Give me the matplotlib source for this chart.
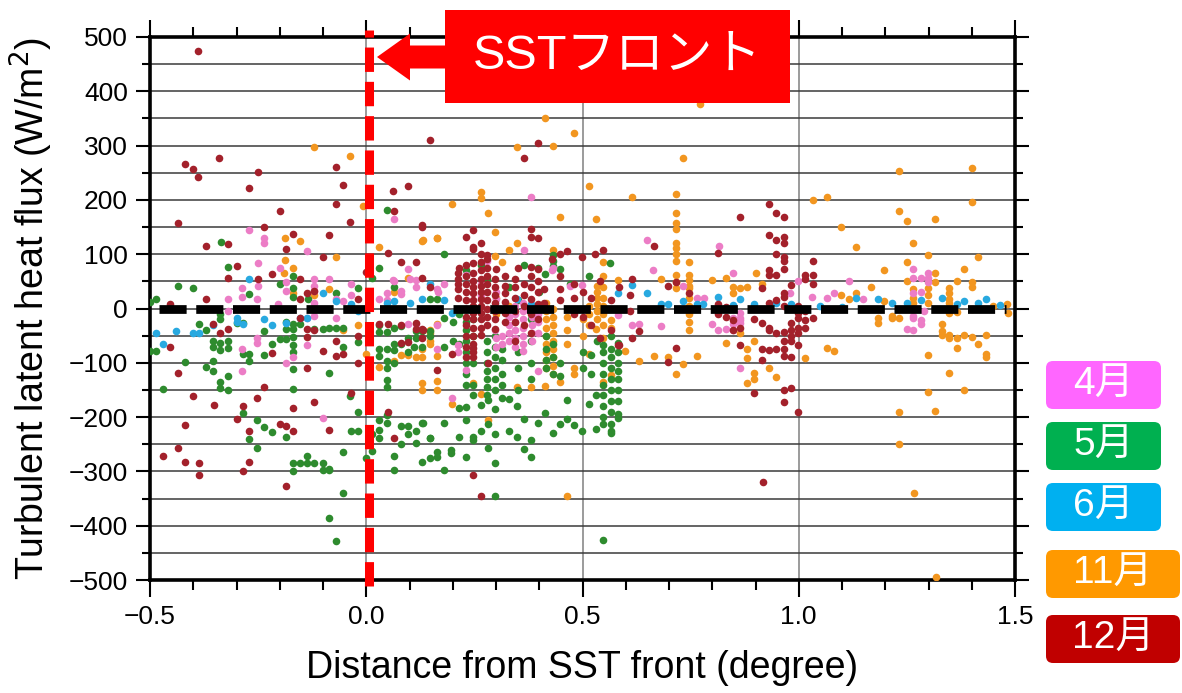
import matplotlib
matplotlib.use("Agg")
import matplotlib.pyplot as plt
from matplotlib.patches import FancyBboxPatch, FancyArrow, Rectangle
from matplotlib.ticker import MultipleLocator

plt.rcParams["font.family"] = ["Liberation Sans", "Noto Sans CJK JP", "DejaVu Sans"]

# ---- data (x: distance from SST front [deg], y: latent heat flux [W/m2]) ----
months = ["4月", "5月", "6月", "11月", "12月"]
dot_colors = ["#EC7DC6", "#2E8B2E", "#28A9E0", "#F29620", "#A3212B"]
box_colors = ["#FF66FF", "#00B050", "#00B0F0", "#FF9900", "#C00000"]

apr_pts = [
    (-0.27, 145), (-0.236, 129), (-0.236, 120), (-0.137, 105), (-0.25, 83), (-0.20, 74),
    (-0.25, 41), (-0.287, 37), (-0.287, 22), (-0.32, 17), (-0.253, 17), (-0.186, 48),
    (-0.186, 33), (-0.12, 55), (-0.12, 42), (-0.12, 33), (-0.086, 55), (-0.07, 18),
    (-0.035, 46), (-0.035, 24), (-0.054, 13), (0.064, 164), (0.096, 72), (0.064, 50),
    (0.048, 29), (0.048, 16), (0.115, 53), (0.03, 18), (0.163, 35), (-0.205, 8),
    (-0.12, 10), (0.08, 33), (0.08, 26), (0.062, 52),
    (-0.253, -55), (-0.287, -74), (-0.287, -116), (-0.17, -90), (-0.186, -101), (-0.137, -68),
    (-0.10, -201), (-0.137, -17), (-0.12, -13), (-0.07, -17), (-0.253, -63), (0.115, -28),
    (0.096, -28), (-0.32, -5), (0.164, -31), (0.164, -74), (0.212, -68), (0.212, -81),
    (0.381, 206), (0.365, 108), (0.432, 75), (0.499, 44), (0.28, 88), (0.23, 62),
    (0.18, 45), (0.165, 30), (0.10, 55), (0.115, 40), (0.47, 42), (0.43, 70),
    (0.33, 0), (0.33, -15), (0.33, -30), (0.33, -45), (0.33, -60),
    (0.345, 5), (0.345, -10), (0.345, -25), (0.345, -40), (0.345, -55), (0.345, -70),
    (0.363, 10), (0.363, -5), (0.363, -20), (0.363, -35), (0.363, -50), (0.363, -65), (0.363, -78),
    (0.383, 0), (0.383, -15), (0.383, -30), (0.383, -45), (0.383, -60),
    (0.397, -10), (0.397, -25), (0.397, -45), (0.30, 30), (0.30, 18), (0.30, -55), (0.30, -70),
    (0.265, 45), (0.265, 25), (0.315, -50), (0.315, -65), (0.298, -40), (0.23, -113),
    (0.198, -164), (0.397, -116),
    (0.649, 127), (0.663, 70), (0.732, 41), (0.681, -33), (0.614, -30), (0.631, -28),
    (0.582, -12), (0.815, 116), (0.813, -40), (0.80, -28), (0.78, 20), (0.765, 20),
    (0.848, 66), (0.998, 50), (1.116, 50), (1.065, 20), (1.081, 28), (1.149, 18),
    (0.832, -37), (0.848, -40), (0.864, -22), (0.864, -9), (0.864, -110), (0.848, -17),
    (0.848, -28), (0.864, -26), (0.864, -18), (0.98, 28), (1.03, 22),
    (1.264, 72), (1.264, 57), (1.283, 57), (1.299, 66), (1.299, 57), (1.299, 48),
    (1.283, 31), (1.264, 28), (1.25, -37), (1.264, -40), (1.283, -22), (1.283, -28),
    (1.264, -13), (1.264, -18), (1.29, -5),
]

may_pts = [
    (-0.336, 122), (-0.32, 77), (-0.435, 42), (-0.40, 37), (-0.486, 18), (-0.27, 27),
    (-0.20, 46), (-0.17, 59), (-0.17, 37), (-0.17, 22), (-0.135, 18), (-0.07, 29),
    (-0.018, 37), (0.048, 182), (0.03, 74), (0.014, 57), (0.064, 39), (0.147, 18),
    (0.164, 18), (-0.5, 12),
    (-0.5, -79), (-0.486, -79), (-0.42, -99), (-0.47, -149), (-0.386, -29), (-0.37, -39),
    (-0.338, -11), (-0.338, -20), (-0.354, -59), (-0.354, -70), (-0.338, -63), (-0.338, -76),
    (-0.32, -59), (-0.32, -72), (-0.37, -107), (-0.354, -96), (-0.354, -116), (-0.32, -125),
    (-0.338, -136), (-0.338, -147), (-0.32, -151), (-0.30, -26), (-0.285, -26), (-0.285, -83),
    (-0.27, -83), (-0.27, -96), (-0.285, -192), (-0.27, -241), (-0.253, -256), (-0.253, -206),
    (-0.236, -42), (-0.236, -85), (-0.236, -219), (-0.218, -66), (-0.218, -228), (-0.20, -57),
    (-0.186, -57), (-0.186, -236), (-0.17, -28), (-0.17, -37), (-0.17, -53), (-0.17, -68),
    (-0.17, -81), (-0.17, -112), (-0.17, -149), (-0.186, -24), (-0.186, -37), (-0.153, -28),
    (-0.12, -37), (-0.10, -37), (-0.086, -118), (-0.086, -35), (-0.07, -35), (-0.054, -35),
    (-0.054, -70), (-0.054, -265), (-0.086, -297), (-0.054, -339), (-0.086, -385), (-0.07, -429),
    (-0.037, -162), (-0.035, -225), (-0.02, -225), (-0.02, -61), (-0.02, -191), (-0.17, -285),
    (-0.17, -300), (-0.153, -284), (-0.137, -271), (-0.137, -284), (-0.12, -284), (-0.10, -285),
    (-0.10, -297), (-0.086, -295),
    (0.0, -276), (0.014, -262), (0.014, -232), (0.03, -206), (0.03, -223), (0.03, -238),
    (0.048, -197), (0.048, -210), (0.048, -131), (0.048, -145), (0.048, -96), (0.048, -109),
    (0.064, -101), (0.03, -74), (0.048, -74), (0.03, -87), (0.03, -44), (0.048, -44),
    (0.064, -35), (0.064, -65), (0.064, -76), (0.08, -65), (0.096, -81), (0.064, -271),
    (0.064, -297), (0.08, -217), (0.096, -217), (0.096, -232), (0.115, -225), (0.13, -210),
    (0.115, -247), (0.08, -249), (0.13, -282), (0.147, -276), (0.164, -274), (0.164, -265),
    (0.147, -238), (0.115, -41), (0.13, -41), (0.147, -41), (0.096, -55), (0.115, -55),
    (0.03, -30), (0.08, -33), (0.147, -50), (0.18, -17), (0.20, -24), (0.11, -70),
    (0.13, -70), (0.18, -70), (0.20, -60), (0.215, -66), (0.215, -10),
    (0.196, -260), (0.196, -267), (0.23, -273), (0.281, -256), (0.298, -284), (0.365, -258),
    (0.381, -274), (0.18, -297), (0.298, -346), (0.548, -427),
    (0.18, 100), (0.265, 81), (0.365, 81), (0.397, 74), (0.432, 98), (0.432, 88),
    (0.432, 79), (0.448, 72), (0.413, 64), (0.564, 83), (0.23, 70), (0.28, 55),
    (0.33, 40), (0.47, 45), (0.40, 30), (0.35, 15), (0.515, 60),
    (0.23, -25), (0.23, -40), (0.23, -60), (0.23, -80), (0.23, -100), (0.23, -120), (0.23, -140),
    (0.247, -20), (0.247, -50), (0.247, -100), (0.247, -140), (0.247, -160),
    (0.28, -60), (0.28, -80), (0.28, -100), (0.28, -115), (0.28, -130), (0.28, -145), (0.28, -160),
    (0.298, -50), (0.298, -70), (0.298, -90), (0.298, -110), (0.298, -130), (0.298, -150), (0.298, -185),
    (0.314, -75), (0.314, -95), (0.314, -120), (0.314, -140),
    (0.35, -80), (0.35, -110), (0.35, -150), (0.38, -20), (0.38, -60), (0.38, -100), (0.38, -130),
    (0.416, -50), (0.416, -75), (0.416, -95), (0.416, -110), (0.432, -65), (0.432, -90), (0.432, -120),
    (0.448, -100), (0.448, -125), (0.50, -80), (0.50, -110), (0.52, -85), (0.52, -120), (0.533, -59),
    (0.547, -68), (0.547, -80), (0.547, -100), (0.547, -120), (0.547, -140), (0.547, -160),
    (0.547, -180), (0.547, -200),
    (0.566, -50), (0.566, -74), (0.566, -90), (0.566, -110), (0.566, -130), (0.566, -150),
    (0.566, -170), (0.566, -190), (0.566, -230),
    (0.582, -63), (0.582, -80), (0.582, -100), (0.582, -115), (0.582, -130), (0.582, -150),
    (0.582, -170), (0.582, -195),
    (0.131, -210), (0.147, -239), (0.18, -210), (0.214, -237), (0.23, -206), (0.247, -237),
    (0.247, -243), (0.265, -225), (0.281, -212), (0.298, -232), (0.33, -225), (0.349, -236),
    (0.381, -243), (0.397, -210), (0.414, -193), (0.432, -230), (0.448, -212), (0.464, -204),
    (0.48, -215), (0.499, -225), (0.531, -221), (0.547, -212), (0.566, -212), (0.566, -225),
    (0.582, -201), (0.515, -175), (0.531, -160), (0.214, -184), (0.23, -182), (0.265, -177),
    (0.281, -168), (0.314, -164), (0.33, -166), (0.349, -179), (0.365, -203), (0.464, -169),
]

jun_pts = [
    (-0.27, 55), (-0.10, 29), (-0.07, 13), (-0.035, 9), (-0.02, -4), (0.048, 11),
    (0.064, 13), (0.10, 11), (0.13, 18), (0.147, 46), (0.18, 15), (0.198, -9),
    (-0.486, -46), (-0.44, -42), (-0.40, -46), (-0.386, -46), (-0.47, -66), (-0.354, -31),
    (-0.30, -18), (-0.30, -24), (-0.285, -28), (-0.236, -20), (-0.218, -30), (-0.186, -26),
    (-0.153, -18), (-0.137, -18), (0.349, 17), (0.381, 9), (0.582, 28), (0.614, 44),
    (0.649, 28), (0.681, 9), (0.698, 9), (0.732, 13), (0.765, 9), (0.779, 9),
    (0.813, 22), (0.848, 7), (0.864, 18), (0.897, 9), (0.947, 11), (0.982, 9),
    (1.05, 5), (1.10, 3), (1.132, 20), (1.183, 18), (1.216, 11), (1.25, 10),
    (1.283, 15), (1.331, 20), (1.366, 9), (1.382, 13), (1.414, 11), (1.433, 17), (1.465, 7),
]

nov_pts = [
    (-0.12, 298), (-0.037, 280), (-0.007, 188), (-0.188, 129), (-0.153, 125), (-0.188, 90),
    (-0.07, 94), (-0.19, 66), (-0.17, 74), (-0.17, 28), (-0.086, 35), (0.03, 114),
    (0.13, 125), (0.163, 129), (0.096, 57), (0.064, 31), (-0.12, 24),
    (-0.054, -39), (-0.02, -31), (0.0, -83), (0.03, -107), (0.064, -96), (0.08, -85),
    (0.096, -85), (0.115, -90), (0.13, -90), (0.13, -74), (0.13, -138), (0.13, -151),
    (0.147, -40), (0.147, -59), (0.164, -28), (0.147, -65), (0.147, -46), (0.164, -133),
    (0.164, -151), (0.164, -87),
    (0.413, 350), (0.48, 324), (0.349, 297), (0.432, 300), (0.515, 225), (0.265, 214),
    (0.265, 203), (0.198, 192), (0.281, 175), (0.448, 168), (0.531, 164), (0.614, 206),
    (0.716, 210), (0.732, 278), (0.772, 376), (0.131, 127), (0.164, 129), (0.298, 140),
    (0.349, 120), (0.33, 107), (0.432, 107), (0.547, 85), (0.547, 59), (0.582, 53),
    (0.547, 39), (0.681, 55), (0.80, 53), (0.314, 85), (0.298, 96),
    (0.533, 42), (0.533, 30), (0.533, 20), (0.533, 8), (0.533, -5), (0.533, -20),
    (0.716, 175), (0.716, 157), (0.716, 147), (0.716, 120), (0.716, 112), (0.716, 101),
    (0.716, 88), (0.716, 61), (0.716, 48), (0.716, 37),
    (0.746, 85), (0.746, 61), (0.746, 53), (0.746, 42), (0.746, 37), (0.746, 20),
    (0.746, 5), (0.746, -10), (0.746, -25), (0.746, -40),
    (0.198, -175), (0.247, -138), (0.265, -157), (0.281, -206), (0.349, -145), (0.381, -145),
    (0.413, -142), (0.448, -136), (0.48, -109), (0.48, -120), (0.515, -83), (0.547, -136),
    (0.566, -123), (0.547, -55), (0.566, -22), (0.566, -35), (0.531, -37), (0.598, -79),
    (0.464, -346),
    (0.416, 10), (0.416, -5), (0.416, -20), (0.416, -35), (0.416, -50), (0.416, -65),
    (0.416, -80), (0.416, -95), (0.416, -110),
    (0.432, 0), (0.432, -15), (0.432, -30), (0.432, -45), (0.432, -60), (0.432, -75),
    (0.432, -90), (0.432, -105), (0.432, -120),
    (0.464, -15), (0.464, -40), (0.464, -65), (0.50, -20), (0.50, -50), (0.515, 5),
    (0.515, -10), (0.515, -30), (0.547, 20), (0.547, 5), (0.547, -10), (0.547, -30),
    (0.30, 20), (0.30, -10), (0.33, 5),
    (0.716, -120), (0.732, -103), (0.698, -90), (0.665, -88), (0.631, -96), (0.765, -87),
    (0.832, -63), (0.88, -74), (0.88, -92), (0.897, -59), (0.897, -118), (0.897, -129),
    (0.88, -138), (0.931, -110), (0.947, -127), (1.014, -92), (1.065, -72), (1.081, -79),
    (0.864, -46),
    (1.183, -18), (1.183, -26), (1.216, -13), (1.216, -18), (1.232, -17), (1.331, -28),
    (1.331, -41), (1.331, -48), (1.347, -48), (1.347, -55), (1.366, -55), (1.366, -72),
    (1.382, -48), (1.40, -53), (1.414, -65), (1.433, -48), (1.433, -83), (1.433, -90),
    (1.299, -85), (1.347, -9), (1.366, -7), (1.40, 0), (1.347, -118), (1.299, -153),
    (1.315, -188), (1.382, -151), (1.232, -191), (1.232, -250), (1.266, -339), (1.317, -495),
    (1.033, 200), (1.065, 206), (1.098, 150), (1.132, 113), (1.197, 70), (1.232, 254),
    (1.232, 179), (1.25, 162), (1.264, 120), (1.315, 164), (1.40, 258), (1.40, 196),
    (1.414, 94), (1.299, 98), (1.25, 85), (1.25, 50), (1.382, 72), (1.366, 50),
    (1.315, 66), (1.315, 48), (1.40, 48), (1.40, 39), (1.167, 39), (1.098, 24),
    (1.116, 17), (1.132, 28), (0.90, 66), (0.915, 46), (0.832, 57), (0.848, 40),
    (0.848, 28), (0.864, 37), (0.88, 40), (1.264, 35), (1.264, 20), (1.264, 11),
    (1.299, 37), (1.299, 24), (1.299, 11), (1.347, 37), (1.347, 28), (1.347, 18),
    (1.347, 11), (1.449, 5), (1.481, 9), (1.483, -9), (1.197, 14),
]

dec_pts = [
    (-0.39, 475), (-0.42, 267), (-0.40, 256), (-0.39, 243), (-0.34, 278), (-0.25, 252),
    (-0.27, 221), (-0.435, 158), (-0.20, 179), (-0.236, 151), (-0.37, 116), (-0.32, 118),
    (-0.17, 138), (-0.186, 109), (-0.10, 94), (-0.086, 136), (-0.07, 260), (-0.054, 228),
    (-0.07, 193), (-0.037, 160), (-0.30, 79), (-0.32, 57), (-0.25, 55), (-0.218, 64),
    (-0.153, 55), (-0.37, 18), (-0.454, 9), (-0.02, 18), (0.0, 68), (0.062, 217),
    (0.064, 180), (0.096, 225), (0.05, 103), (0.08, 85), (0.115, 85), (0.13, 151),
    (0.147, 311), (0.13, 57), (0.147, 39), (-0.12, 33), (-0.153, 18), (-0.137, 28),
    (-0.454, -70), (-0.436, -119), (-0.40, -162), (-0.42, -214), (-0.436, -256), (-0.47, -272),
    (-0.42, -282), (-0.386, -284), (-0.386, -306), (-0.352, -177), (-0.338, -46), (-0.32, -37),
    (-0.354, -28), (-0.30, -203), (-0.285, -180), (-0.285, -300), (-0.27, -226), (-0.27, -282),
    (-0.253, -164), (-0.236, -145), (-0.218, -82), (-0.20, -212), (-0.186, -217), (-0.17, -226),
    (-0.17, -184), (-0.186, -326), (-0.153, -18), (-0.137, -37), (-0.137, -52), (-0.137, -110),
    (-0.12, -173), (-0.10, -79), (-0.086, -223), (-0.07, -59), (-0.054, -83), (-0.07, -88),
    (-0.035, -155), (-0.02, -50), (-0.02, -101), (-0.12, -40), (0.05, -190), (0.064, -238),
    (0.08, -64), (0.096, -61), (0.115, -37), (0.13, -37), (0.03, -28), (0.05, -28),
    (0.08, -30), (0.13, -55), (0.115, -26),
    (0.13, 153), (0.23, 131), (0.246, 144), (0.246, 114), (0.246, 110), (0.265, 100),
    (0.28, 98), (0.28, 92), (0.38, 147), (0.397, 129), (0.38, 131), (0.448, 101),
    (0.464, 105), (0.498, 94), (0.53, 101), (0.547, 107), (0.397, 304), (0.365, 277),
    (0.215, 75), (0.23, 80), (0.30, 72), (0.35, 74), (0.38, 77), (0.397, 72),
    (0.43, 92), (0.212, 66), (0.212, 55), (0.212, 45), (0.212, 35), (0.212, 20),
    (0.23, 60), (0.23, 45), (0.23, 30), (0.23, 15), (0.23, 0), (0.23, -15), (0.23, -30),
    (0.23, -50), (0.23, -70),
    (0.247, 83), (0.247, 65), (0.247, 50), (0.247, 40), (0.247, 28), (0.247, 15), (0.247, 5),
    (0.247, -8), (0.247, -20), (0.247, -35), (0.247, -50), (0.247, -66), (0.247, -80),
    (0.265, 120), (0.265, 85), (0.265, 70), (0.265, 55), (0.265, 42), (0.265, 30), (0.265, 18),
    (0.265, 5), (0.265, -8), (0.265, -20), (0.265, -35), (0.265, -48),
    (0.28, 75), (0.28, 60), (0.28, 45), (0.28, 30), (0.28, 15), (0.28, 0), (0.28, -15), (0.28, -30),
    (0.297, 55), (0.297, 40), (0.297, 25), (0.297, 10), (0.297, -5), (0.297, -20), (0.297, -38),
    (0.32, 60), (0.32, 42), (0.32, 28), (0.32, 12), (0.32, -8), (0.32, -25),
    (0.345, 55), (0.345, 40), (0.345, 20), (0.345, -5), (0.345, -25), (0.345, -60),
    (0.365, 45), (0.365, 25), (0.365, 5), (0.365, -30),
    (0.38, 60), (0.38, 40), (0.38, 18), (0.38, -10), (0.38, -45),
    (0.397, 50), (0.397, 30), (0.397, 8), (0.397, -20), (0.41, 35), (0.41, 10),
    (0.448, 60), (0.448, 35), (0.448, 15), (0.48, 45), (0.48, 20), (0.48, -10),
    (0.50, 30), (0.50, -15), (0.52, 20), (0.52, -30), (0.54, 50), (0.54, -55),
    (0.565, 15), (0.565, -40), (0.585, 40), (0.585, -68), (0.61, 25), (0.61, -5),
    (0.247, -72), (0.247, -90), (0.198, -83), (0.23, -90), (0.281, -101), (0.164, -114),
    (0.131, -40), (0.247, -306), (0.265, -346),
    (0.614, 55), (0.665, 116), (0.698, 41), (0.746, 28), (0.716, 48), (0.631, -42),
    (0.614, -55), (0.582, -68), (0.716, -72), (0.698, -98),
    (0.931, 193), (0.947, 175), (0.966, 168), (0.864, 168), (0.931, 136), (0.947, 127),
    (0.966, 131), (0.966, 120), (0.947, 101), (0.966, 94), (0.966, 88), (0.966, 72),
    (0.947, 61), (0.931, 70), (0.931, 61), (0.813, 103), (0.915, 37), (0.982, 44),
    (1.033, 87), (1.014, 61), (1.033, 61), (1.014, 55), (1.033, 46), (0.966, 28), (0.966, 22),
    (0.813, -10), (0.832, -15), (0.848, -22), (0.864, -35), (0.848, -40), (0.897, -20),
    (0.915, -27), (0.931, -35), (0.931, -40), (0.947, -46), (0.966, -44), (0.966, -59),
    (0.966, -74), (0.982, -26), (0.982, -40), (0.982, -50), (0.982, -59), (0.998, -9),
    (0.998, -18), (0.998, -35), (0.998, -46), (1.014, -22), (1.014, -35), (1.033, -18),
    (0.864, -68), (0.915, -74), (0.931, -76), (0.947, -74), (0.966, -87), (0.982, -90),
    (0.998, -68), (0.897, -155), (0.966, -151), (0.982, -147), (0.966, -173), (0.998, -190),
    (0.915, -94), (0.917, -320), (0.966, 5), (0.931, 10), (0.947, 15), (0.813, 8),
    (0.832, 2), (0.998, 5), (1.014, -5),
]

series = [apr_pts, may_pts, jun_pts, nov_pts, dec_pts]
draw_order = [3, 1, 0, 2, 4]  # orange, green, pink, blue, dark red on top

sst_front = 0.0
x_range = (-0.5, 1.5)
y_range = (-500, 500)

# ---- figure ----
W, H = 1182, 693
fig = plt.figure(figsize=(W / 100, H / 100), dpi=100)
ax = fig.add_axes([150 / W, 1 - 580 / H, 865 / W, 543 / H])

for i in draw_order:
    xs = [p[0] for p in series[i]]
    ys = [p[1] for p in series[i]]
    ax.scatter(xs, ys, s=30, color=dot_colors[i], linewidths=0, zorder=3)

ax.set_xlim(*x_range)
ax.set_ylim(*y_range)
ax.xaxis.set_major_locator(MultipleLocator(0.5))
ax.xaxis.set_minor_locator(MultipleLocator(0.1))
ax.yaxis.set_major_locator(MultipleLocator(100))
ax.yaxis.set_minor_locator(MultipleLocator(50))

ax.set_axisbelow(True)
ax.grid(axis="y", which="both", color="#3a3a3a", linewidth=1.1)
ax.grid(axis="x", which="major", color="#8a8a8a", linewidth=1.2)

ax.tick_params(axis="both", which="both", direction="out", top=True, right=True,
               width=1.5, labelsize=19, colors="black")
ax.tick_params(axis="x", which="major", length=12, pad=6)
ax.tick_params(axis="x", which="minor", length=7)
ax.tick_params(axis="y", which="major", length=10, pad=6)
ax.tick_params(axis="y", which="minor", length=6)
for sp in ax.spines.values():
    sp.set_linewidth(2.6)

ax.set_xlabel("Distance from SST front (degree)", fontsize=27, labelpad=15)
ax.set_ylabel("Turbulent latent heat flux (W/m$^2$)", fontsize=27, labelpad=10)

# zero line and SST front line
ax.axhline(0, xmin=0.01, xmax=0.99, color="black", linewidth=6.3,
           linestyle=(0, (3.1, 1.1)), dash_capstyle="butt", zorder=4)
ax.axvline(sst_front + 0.006, ymin=-0.011, ymax=1.013, color="#FF0000", linewidth=6.5,
           linestyle=(0, (2.7, 1.1)), dash_capstyle="butt", zorder=5, clip_on=False)

# "SST front" label box with arrow (figure inches from pixel layout)
tr = fig.dpi_scale_trans
fig.patches.append(Rectangle((4.45, (H - 103) / 100), 3.45, 0.93, transform=tr,
                             facecolor="#FF0000", edgecolor="none", zorder=10))
fig.patches.append(FancyArrow(4.47, (H - 57) / 100, -0.70, 0, width=0.23, head_width=0.47,
                              head_length=0.33, length_includes_head=True, transform=tr,
                              facecolor="#FF0000", edgecolor="none", zorder=10))
fig.text(6.175, (H - 56.5) / 100, "SSTフロント", transform=tr, color="white", fontsize=35,
         ha="center", va="center", zorder=11)

# month legend boxes
box_top_px = [361, 422, 483, 550, 615]
box_w_px = [115, 115, 115, 134, 134]
for lab, col, top, bw in zip(months, box_colors, box_top_px, box_w_px):
    x0, y0 = 1046 / 100, (H - top - 48) / 100
    fig.patches.append(FancyBboxPatch((x0, y0), bw / 100, 0.48,
                                      boxstyle="round,pad=0,rounding_size=0.07",
                                      transform=tr, facecolor=col, edgecolor="none"))
    fig.text(x0 + bw / 200, y0 + 0.24, lab, transform=tr, color="white", fontsize=28,
             ha="center", va="center")

fig.savefig("out.png", dpi=100)
